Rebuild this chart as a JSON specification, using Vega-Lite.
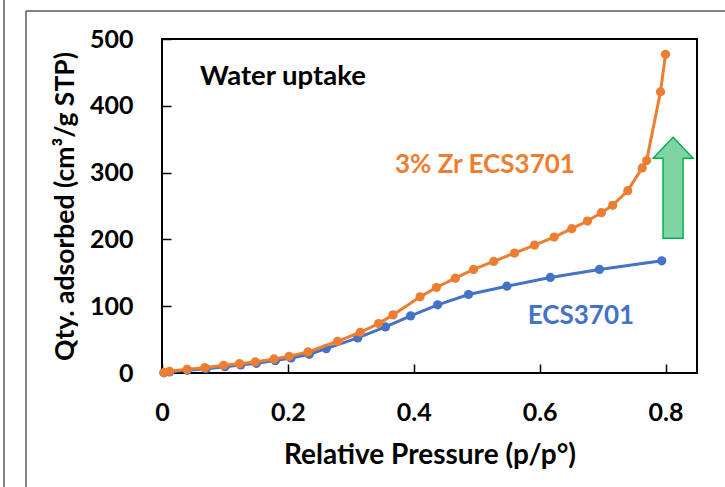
{
  "$schema": "https://vega.github.io/schema/vega-lite/v6.json",
  "width": 535,
  "height": 334,
  "autosize": {"type": "none"},
  "padding": {"left": 162, "top": 39, "right": 28, "bottom": 114},
  "background": "white",
  "config": {
    "font": "Lato",
    "view": {"stroke": "black", "strokeWidth": 2},
    "axis": {
      "domain": false,
      "grid": false,
      "ticks": true,
      "tickColor": "black",
      "tickWidth": 1.5,
      "tickSize": -9,
      "labelFlush": false,
      "labelFont": "Lato",
      "labelFontSize": 25,
      "labelFontWeight": "bold",
      "labelColor": "black",
      "titleFont": "Lato",
      "titleFontWeight": "bold",
      "titleColor": "black"
    }
  },
  "datasets": {
    "isotherms": [
      {"series": "ECS3701", "p": 0.003, "q": 0.3},
      {"series": "ECS3701", "p": 0.012, "q": 1.5},
      {"series": "ECS3701", "p": 0.040, "q": 4},
      {"series": "ECS3701", "p": 0.070, "q": 6.5},
      {"series": "ECS3701", "p": 0.100, "q": 9.5},
      {"series": "ECS3701", "p": 0.125, "q": 12},
      {"series": "ECS3701", "p": 0.150, "q": 14.5},
      {"series": "ECS3701", "p": 0.180, "q": 18.5},
      {"series": "ECS3701", "p": 0.205, "q": 22.5},
      {"series": "ECS3701", "p": 0.234, "q": 28},
      {"series": "ECS3701", "p": 0.261, "q": 36.5},
      {"series": "ECS3701", "p": 0.311, "q": 52.5},
      {"series": "ECS3701", "p": 0.355, "q": 69},
      {"series": "ECS3701", "p": 0.395, "q": 85.5},
      {"series": "ECS3701", "p": 0.438, "q": 102},
      {"series": "ECS3701", "p": 0.487, "q": 117.5},
      {"series": "ECS3701", "p": 0.548, "q": 130},
      {"series": "ECS3701", "p": 0.617, "q": 143},
      {"series": "ECS3701", "p": 0.695, "q": 155},
      {"series": "ECS3701", "p": 0.794, "q": 168},
      {"series": "3% Zr ECS3701", "p": 0.003, "q": 0.6},
      {"series": "3% Zr ECS3701", "p": 0.012, "q": 2.5},
      {"series": "3% Zr ECS3701", "p": 0.040, "q": 5.5},
      {"series": "3% Zr ECS3701", "p": 0.068, "q": 8},
      {"series": "3% Zr ECS3701", "p": 0.098, "q": 11.5},
      {"series": "3% Zr ECS3701", "p": 0.123, "q": 14},
      {"series": "3% Zr ECS3701", "p": 0.148, "q": 16.5},
      {"series": "3% Zr ECS3701", "p": 0.178, "q": 21},
      {"series": "3% Zr ECS3701", "p": 0.202, "q": 25},
      {"series": "3% Zr ECS3701", "p": 0.232, "q": 31.5},
      {"series": "3% Zr ECS3701", "p": 0.279, "q": 47.5},
      {"series": "3% Zr ECS3701", "p": 0.315, "q": 61},
      {"series": "3% Zr ECS3701", "p": 0.344, "q": 74},
      {"series": "3% Zr ECS3701", "p": 0.367, "q": 87},
      {"series": "3% Zr ECS3701", "p": 0.410, "q": 114},
      {"series": "3% Zr ECS3701", "p": 0.436, "q": 128},
      {"series": "3% Zr ECS3701", "p": 0.466, "q": 142},
      {"series": "3% Zr ECS3701", "p": 0.495, "q": 155},
      {"series": "3% Zr ECS3701", "p": 0.527, "q": 167},
      {"series": "3% Zr ECS3701", "p": 0.560, "q": 179.5},
      {"series": "3% Zr ECS3701", "p": 0.592, "q": 191.5},
      {"series": "3% Zr ECS3701", "p": 0.623, "q": 203.5},
      {"series": "3% Zr ECS3701", "p": 0.651, "q": 216},
      {"series": "3% Zr ECS3701", "p": 0.676, "q": 227.5},
      {"series": "3% Zr ECS3701", "p": 0.698, "q": 240},
      {"series": "3% Zr ECS3701", "p": 0.716, "q": 251},
      {"series": "3% Zr ECS3701", "p": 0.740, "q": 273},
      {"series": "3% Zr ECS3701", "p": 0.763, "q": 307},
      {"series": "3% Zr ECS3701", "p": 0.770, "q": 318},
      {"series": "3% Zr ECS3701", "p": 0.792, "q": 421},
      {"series": "3% Zr ECS3701", "p": 0.800, "q": 477}
    ],
    "annotation": [
      {"note": "single"}
    ]
  },
  "layer": [
    {
      "data": {"name": "isotherms"},
      "transform": [{"filter": "datum.series === 'ECS3701'"}],
      "mark": {"type": "line", "color": "#4472C4", "strokeWidth": 3, "point": {"filled": true, "size": 85, "color": "#4472C4", "opacity": 1}},
      "encoding": {
        "x": {
          "field": "p",
          "type": "quantitative",
          "title": "Relative Pressure (p/p°)",
          "scale": {"domain": [0, 0.85], "nice": false, "zero": false},
          "axis": {"values": [0, 0.2, 0.4, 0.6, 0.8], "format": ".1~f", "labelPadding": 36, "titlePadding": 16, "titleFontSize": 28}
        },
        "y": {
          "field": "q",
          "type": "quantitative",
          "title": "Qty. adsorbed (cm³/g STP)",
          "scale": {"domain": [0, 500], "nice": false, "zero": false},
          "axis": {"values": [0, 100, 200, 300, 400, 500], "format": "d", "labelPadding": 38, "titlePadding": 10, "titleFontSize": 26.5}
        }
      }
    },
    {
      "data": {"name": "isotherms"},
      "transform": [{"filter": "datum.series === '3% Zr ECS3701'"}],
      "mark": {"type": "line", "color": "#ED7D31", "strokeWidth": 3, "point": {"filled": true, "size": 85, "color": "#ED7D31", "opacity": 1}},
      "encoding": {
        "x": {"field": "p", "type": "quantitative"},
        "y": {"field": "q", "type": "quantitative"}
      }
    },
    {
      "data": {"name": "annotation"},
      "mark": {"type": "rule", "color": "#595959", "strokeWidth": 1.5, "clip": false},
      "encoding": {
        "x": {"datum": -0.2161, "type": "quantitative"},
        "y": {"datum": 541.9, "type": "quantitative"},
        "y2": {"datum": -220}
      }
    },
    {
      "data": {"name": "annotation"},
      "mark": {"type": "rule", "color": "#595959", "strokeWidth": 1.5, "clip": false},
      "encoding": {
        "x": {"datum": -0.2161, "type": "quantitative"},
        "x2": {"datum": 1.2},
        "y": {"datum": 541.9, "type": "quantitative"}
      }
    },
    {
      "data": {"name": "annotation"},
      "mark": {"type": "rule", "color": "#595959", "strokeWidth": 1.5, "clip": false},
      "encoding": {
        "x": {"datum": -0.251, "type": "quantitative"},
        "y": {"datum": 560, "type": "quantitative"},
        "y2": {"datum": -220}
      }
    },
    {
      "data": {"name": "annotation"},
      "mark": {
        "type": "point",
        "shape": "M0,-1L0.396,-0.584L0.198,-0.584L0.198,1L-0.198,1L-0.198,-0.584L-0.396,-0.584Z",
        "filled": true,
        "fill": "#7FD4A3",
        "stroke": "#00B050",
        "strokeWidth": 1.5,
        "opacity": 1,
        "size": 10201
      },
      "encoding": {
        "x": {"datum": 0.812, "type": "quantitative"},
        "y": {"datum": 277.2, "type": "quantitative"}
      }
    },
    {
      "data": {"name": "annotation"},
      "mark": {"type": "text", "text": "Water uptake", "font": "Lato", "fontSize": 27.5, "fontWeight": "bold", "color": "black", "align": "left", "baseline": "alphabetic"},
      "encoding": {
        "x": {"datum": 0.0603, "type": "quantitative"},
        "y": {"datum": 430.7, "type": "quantitative"}
      }
    },
    {
      "data": {"name": "annotation"},
      "mark": {"type": "text", "text": "3% Zr ECS3701", "font": "Lato", "fontSize": 26, "fontWeight": "bold", "color": "#ED7D31", "align": "right", "baseline": "alphabetic"},
      "encoding": {
        "x": {"datum": 0.656, "type": "quantitative"},
        "y": {"datum": 299, "type": "quantitative"}
      }
    },
    {
      "data": {"name": "annotation"},
      "mark": {"type": "text", "text": "ECS3701", "font": "Lato", "fontSize": 26, "fontWeight": "bold", "color": "#4472C4", "align": "right", "baseline": "alphabetic"},
      "encoding": {
        "x": {"datum": 0.75, "type": "quantitative"},
        "y": {"datum": 72.9, "type": "quantitative"}
      }
    }
  ]
}
